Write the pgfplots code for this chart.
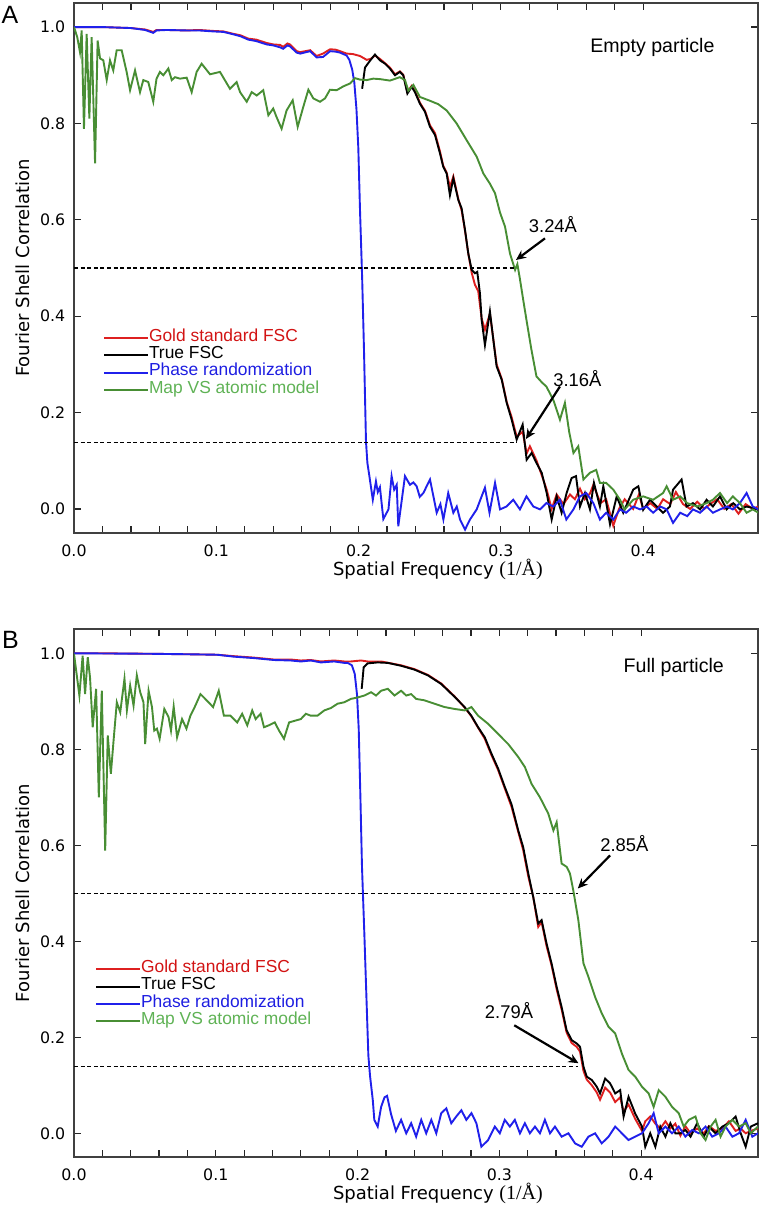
\documentclass[border=0pt]{standalone}
\usepackage{fontspec}
\setmainfont{DejaVu Sans}
\newfontfamily\arial{Liberation Sans}
\newfontfamily\lser{Liberation Serif}
\usepackage{pgfplots}
\pgfplotsset{compat=1.18}
\usetikzlibrary{arrows.meta}
\definecolor{fscred}{RGB}{222,32,32}
\definecolor{fscblue}{RGB}{32,32,235}
\definecolor{fscgreen}{RGB}{72,142,52}
\definecolor{legred}{RGB}{210,20,20}
\definecolor{legblue}{RGB}{30,30,225}
\definecolor{leggreen}{RGB}{95,178,85}
\pgfplotsset{fsc/.style={
  scale only axis, width=342pt,
  xmin=0, ymin=-0.05, ymax=1.05,
  xtick={0,0.1,0.2,0.3,0.4}, minor x tick num=4,
  ytick={0,0.2,0.4,0.6,0.8,1.0},
  tick align=inside, xtick pos=both, ytick pos=both,
  xticklabel pos=lower, yticklabel pos=left,
  major tick length=3.5pt, minor tick length=3.5pt,
  every tick/.style={black!85, line width=0.6pt},
  axis line style={black!75, line width=0.9pt},
  /pgf/number format/.cd, fixed, fixed zerofill, precision=1, assume math mode=true, /pgfplots/.cd,
  tick label style={font=\fontsize{7.9}{9}\selectfont},
  xticklabel style={yshift=-2.2pt},
  yticklabel style={xshift=-0.9pt},
  label style={font=\fontsize{9}{11}\selectfont},
  xlabel={Spatial Frequency {\lser\fontsize{10}{12}\selectfont(1/Å)}},
  ylabel={Fourier Shell Correlation},
  xlabel style={at={(axis description cs:0.532,-0.068)}, anchor=center},
  ylabel style={at={(axis description cs:-0.0753,0.5)}, anchor=center},
  legend cell align=left,
  legend image code/.code={\draw[#1, line width=1pt] (0pt,0pt) -- (22pt,0pt);},
  legend style={draw=none, fill=none, inner sep=0pt, outer sep=0pt, row sep=0pt,
    font=\arial\fontsize{8.7}{10}\selectfont,
    nodes={inner sep=0pt, text height=5.9pt, text depth=2.75pt},
    /tikz/every even column/.append style={column sep=1.5pt}},
  every axis plot/.append style={line width=0.95pt},
}}
\tikzset{fscdash/.style={black, line width=0.6pt, dash pattern=on 2pt off 1.3pt}}
\begin{document}
\begin{tikzpicture}
\path[use as bounding box] (0,0) rectangle (381pt,603pt);
% ---------------- Panel A ----------------
\begin{axis}[fsc, at={(37pt,336.5pt)}, anchor=south west, height=265pt, xmax=0.4807,
  legend style={at={(axis description cs:0.0424,0.384)}, anchor=north west}]
\addplot[fscred] coordinates {
(0.000,1.000) (0.010,1.000) (0.020,1.000) (0.030,0.999) (0.040,0.998) (0.050,0.995) (0.0557,0.990) (0.058,0.994)
(0.065,0.994) (0.079,0.993) (0.088,0.994) (0.098,0.992) (0.105,0.991) (0.112,0.986) (0.117,0.983) (0.1225,0.976)
(0.128,0.974) (0.1354,0.967) (0.140,0.964) (0.1448,0.963) (0.147,0.959) (0.150,0.966) (0.1518,0.964) (0.1565,0.950)
(0.159,0.948) (0.166,0.952) (0.1705,0.940) (0.175,0.945) (0.180,0.954) (0.184,0.953) (0.187,0.950) (0.1916,0.945)
(0.196,0.944) (0.201,0.940) (0.2057,0.932) (0.2085,0.934) (0.2115,0.941) (0.215,0.934) (0.2186,0.925) (0.222,0.916)
(0.2256,0.902) (0.229,0.908) (0.2314,0.901) (0.2343,0.865) (0.2373,0.878) (0.2396,0.868) (0.2431,0.843) (0.2467,0.826)
(0.2502,0.796) (0.2537,0.780) (0.2572,0.742) (0.2595,0.712) (0.2619,0.698) (0.2642,0.668) (0.2666,0.690) (0.2701,0.643)
(0.2724,0.620) (0.2748,0.577) (0.2771,0.530) (0.2795,0.490) (0.2818,0.465) (0.2841,0.452) (0.2865,0.395) (0.2888,0.372)
(0.2923,0.405) (0.2947,0.352) (0.297,0.300) (0.3006,0.270) (0.3041,0.222) (0.3076,0.190) (0.3111,0.150) (0.3153,0.160)
(0.3181,0.115) (0.3204,0.130) (0.3251,0.100) (0.3287,0.070) (0.3322,0.040) (0.3357,0.000) (0.3392,0.030) (0.344,0.010)
(0.3486,0.030) (0.352,0.020) (0.3556,0.042) (0.359,0.020) (0.3626,0.032) (0.365,0.050) (0.370,0.012) (0.374,0.020)
(0.379,-0.035) (0.383,0.000) (0.387,0.020) (0.393,0.000) (0.397,0.030) (0.400,0.000) (0.405,0.012) (0.410,0.000)
(0.414,0.020) (0.419,0.010) (0.423,0.035) (0.428,0.010) (0.433,0.000) (0.438,0.015) (0.443,0.000) (0.447,0.010)
(0.452,0.020) (0.457,0.000) (0.462,0.010) (0.467,-0.010) (0.472,0.010) (0.477,0.000) (0.481,0.005)
};
\addlegendentry{\textcolor{legred}{Gold standard FSC}}
\addplot[black] coordinates {
(0.2025,0.872) (0.2045,0.916) (0.208,0.930) (0.2115,0.943) (0.215,0.931) (0.2186,0.924) (0.222,0.914) (0.2256,0.900)
(0.229,0.907) (0.2314,0.900) (0.2343,0.862) (0.2373,0.876) (0.2396,0.865) (0.2431,0.841) (0.2467,0.824) (0.2502,0.793)
(0.2537,0.776) (0.2572,0.738) (0.2595,0.710) (0.2619,0.696) (0.2642,0.651) (0.2666,0.686) (0.2701,0.641) (0.2724,0.624)
(0.2748,0.579) (0.2771,0.530) (0.2795,0.496) (0.2818,0.489) (0.2834,0.492) (0.2853,0.447) (0.2865,0.392) (0.2888,0.340)
(0.2923,0.410) (0.2947,0.351) (0.297,0.296) (0.3006,0.268) (0.3041,0.220) (0.3076,0.185) (0.3111,0.144) (0.3153,0.175)
(0.3181,0.102) (0.3216,0.116) (0.3251,0.095) (0.3287,0.075) (0.3322,0.033) (0.3357,-0.022) (0.3392,0.026) (0.3427,-0.008)
(0.3462,0.033) (0.3497,0.064) (0.3528,0.068) (0.3556,0.005) (0.3591,0.033) (0.3626,-0.001) (0.3654,0.054) (0.3696,0.005)
(0.372,0.047) (0.3767,-0.032) (0.3814,0.026) (0.386,-0.008) (0.393,0.040) (0.3966,0.047) (0.400,-0.002) (0.4048,0.019)
(0.4095,0.005) (0.414,-0.008) (0.4188,0.005) (0.421,0.040) (0.427,0.061) (0.4305,0.005) (0.435,0.012) (0.440,-0.001)
(0.4446,0.019) (0.449,0.005) (0.454,0.026) (0.4587,-0.001) (0.4633,0.012) (0.468,-0.001) (0.4727,0.005) (0.481,-0.001)
};
\addlegendentry{\textcolor{black}{True FSC}}
\addplot[fscblue] coordinates {
(0.000,1.000) (0.010,1.000) (0.020,1.000) (0.030,0.999) (0.040,0.998) (0.050,0.994) (0.0557,0.988) (0.058,0.993)
(0.065,0.994) (0.079,0.993) (0.088,0.993) (0.098,0.991) (0.105,0.990) (0.112,0.985) (0.117,0.981) (0.1225,0.974)
(0.128,0.971) (0.1354,0.964) (0.140,0.962) (0.1448,0.958) (0.147,0.955) (0.150,0.962) (0.1518,0.960) (0.1565,0.947)
(0.159,0.945) (0.166,0.950) (0.1705,0.937) (0.175,0.938) (0.180,0.950) (0.184,0.949) (0.187,0.947) (0.1916,0.941)
(0.1935,0.932) (0.1955,0.912) (0.197,0.885) (0.1985,0.830) (0.1998,0.750) (0.201,0.620) (0.2025,0.480) (0.2038,0.330)
(0.2052,0.140) (0.2062,0.095) (0.2075,0.070) (0.210,0.019) (0.2122,0.057) (0.2135,0.035) (0.215,0.045) (0.2174,-0.021)
(0.221,-0.001) (0.2232,0.068) (0.2250,0.040) (0.2268,0.050) (0.2279,-0.036) (0.2326,0.068) (0.2361,0.050) (0.2385,0.055)
(0.2408,0.047) (0.2430,0.025) (0.2455,0.033) (0.2502,0.061) (0.2549,-0.008) (0.2575,0.010) (0.2596,-0.022) (0.263,0.033)
(0.2666,-0.008) (0.2690,0.005) (0.2713,-0.022) (0.2748,-0.043) (0.2783,-0.022) (0.283,-0.001) (0.2888,0.044) (0.292,-0.008)
(0.2959,0.054) (0.2994,-0.001) (0.304,0.005) (0.3087,0.019) (0.3134,-0.001) (0.318,0.026) (0.3228,0.005) (0.3275,-0.001)
(0.332,0.012) (0.3368,0.005) (0.3415,0.019) (0.346,-0.022) (0.351,-0.001) (0.3556,0.026) (0.360,0.033) (0.365,0.012)
(0.3696,-0.022) (0.374,-0.008) (0.379,-0.022) (0.3837,-0.001) (0.388,-0.008) (0.393,0.005) (0.3978,-0.001) (0.4025,0.005)
(0.407,-0.008) (0.412,0.005) (0.4165,-0.001) (0.421,-0.029) (0.426,-0.008) (0.431,-0.015) (0.435,-0.001) (0.440,-0.008)
(0.4446,0.005) (0.449,-0.008) (0.454,-0.001) (0.459,0.005) (0.463,-0.001) (0.468,0.012) (0.4727,0.033) (0.477,0.005) (0.481,-0.001)
};
\addlegendentry{\textcolor{legblue}{Phase randomization}}
\addplot[fscgreen] coordinates {
(0.000,1.000) (0.0023,0.979) (0.0042,0.948) (0.0054,0.993) (0.007,0.789) (0.0089,0.986) (0.0108,0.810) (0.0124,0.979)
(0.0148,0.717) (0.0166,0.972) (0.0183,0.935) (0.0206,0.931) (0.023,0.890) (0.0253,0.931) (0.0276,0.910) (0.030,0.952)
(0.0335,0.952) (0.037,0.907) (0.0394,0.869) (0.0429,0.910) (0.0464,0.865) (0.0487,0.890) (0.0522,0.886) (0.0557,0.845)
(0.058,0.893) (0.0604,0.907) (0.0628,0.900) (0.0663,0.914) (0.0687,0.890) (0.071,0.896) (0.0745,0.893) (0.0792,0.895)
(0.0827,0.865) (0.0862,0.907) (0.0897,0.924) (0.0956,0.902) (0.1026,0.907) (0.1096,0.872) (0.1143,0.886) (0.1167,0.865)
(0.1214,0.845) (0.1249,0.865) (0.1284,0.858) (0.133,0.869) (0.1366,0.817) (0.140,0.831) (0.1424,0.813) (0.1459,0.789)
(0.1494,0.827) (0.1537,0.848) (0.1572,0.793) (0.1611,0.834) (0.1647,0.870) (0.1682,0.852) (0.1729,0.845) (0.1764,0.852)
(0.1799,0.870) (0.1846,0.869) (0.1893,0.877) (0.194,0.883) (0.1975,0.894) (0.201,0.891) (0.2057,0.890) (0.2103,0.893)
(0.215,0.892) (0.222,0.889) (0.229,0.896) (0.2326,0.890) (0.235,0.868) (0.2385,0.880) (0.2431,0.855) (0.2502,0.847)
(0.2560,0.840) (0.2619,0.827) (0.2689,0.800) (0.276,0.765) (0.283,0.731) (0.2877,0.696) (0.2923,0.675) (0.2959,0.655)
(0.2994,0.615) (0.3029,0.586) (0.3064,0.530) (0.310,0.496) (0.3116,0.508) (0.3134,0.477) (0.3158,0.432) (0.318,0.392)
(0.3215,0.330) (0.325,0.275) (0.329,0.262) (0.332,0.254) (0.337,0.225) (0.3415,0.185) (0.345,0.220) (0.348,0.160)
(0.351,0.116) (0.3544,0.130) (0.358,0.061) (0.3626,0.075) (0.367,0.081) (0.3696,0.054) (0.374,0.054) (0.379,0.040)
(0.3837,0.019) (0.387,-0.001) (0.393,0.019) (0.400,0.026) (0.407,0.019) (0.414,0.033) (0.4165,0.047) (0.421,0.019)
(0.426,0.026) (0.431,0.012) (0.438,0.005) (0.4446,0.012) (0.449,0.019) (0.454,0.033) (0.459,0.012) (0.463,0.026)
(0.468,0.012) (0.4727,-0.008) (0.477,-0.001) (0.481,-0.008)
};
\addlegendentry{\textcolor{leggreen}{Map VS atomic model}}
\addplot[fscdash, forget plot] coordinates {(0,0.5) (0.310,0.5)};
\addplot[fscdash, forget plot] coordinates {(0,0.137) (0.3115,0.137)};
\draw[-{Stealth[length=5pt,width=4.5pt]}, line width=1.1pt] (axis cs:0.331,0.5615) -- (axis cs:0.3106,0.5166);
\draw[-{Stealth[length=5pt,width=4.5pt]}, line width=1.1pt] (axis cs:0.3415,0.254) -- (axis cs:0.3176,0.145);
\node[font=\arial\fontsize{9.2}{11}\selectfont] at (axis cs:0.3366,0.591) {3.24Å};
\node[font=\arial\fontsize{9.2}{11}\selectfont] at (axis cs:0.3538,0.271) {3.16Å};
\node[font=\arial\fontsize{9.8}{12}\selectfont] at (axis cs:0.4065,0.958) {Empty particle};
\end{axis}
% ---------------- Panel B ----------------
\begin{axis}[fsc, at={(37pt,24.35pt)}, anchor=south west, height=264pt, xmax=0.4824,
  legend style={at={(axis description cs:0.0308,0.3725)}, anchor=north west}]
\addplot[fscred] coordinates {
(0.000,1.000) (0.020,1.000) (0.0538,0.999) (0.080,0.998) (0.101,0.997) (0.1128,0.994) (0.127,0.991) (0.1411,0.987)
(0.1529,0.987) (0.160,0.985) (0.167,0.986) (0.1741,0.983) (0.1835,0.985) (0.1906,0.983) (0.1953,0.983) (0.2024,0.985)
(0.2071,0.983) (0.2166,0.983) (0.2307,0.975) (0.2401,0.967) (0.2496,0.955) (0.259,0.937) (0.2685,0.910) (0.2755,0.887)
(0.2802,0.869) (0.2850,0.845) (0.2897,0.822) (0.2944,0.788) (0.2991,0.757) (0.3039,0.718) (0.3086,0.680) (0.3133,0.628)
(0.3168,0.590) (0.3204,0.535) (0.3239,0.492) (0.3274,0.430) (0.3298,0.440) (0.3333,0.390) (0.3368,0.350) (0.3404,0.300)
(0.3439,0.258) (0.3474,0.210) (0.351,0.188) (0.3546,0.180) (0.3569,0.170) (0.3593,0.130) (0.3616,0.112) (0.3652,0.100)
(0.3687,0.085) (0.371,0.070) (0.3746,0.095) (0.3781,0.085) (0.3817,0.065) (0.3852,0.075) (0.3876,0.045) (0.3911,0.060)
(0.3958,0.030) (0.4006,0.005) (0.4029,0.025) (0.4064,0.035) (0.41,0.020) (0.4135,0.010) (0.4171,0.025) (0.4206,0.010)
(0.4241,0.020) (0.4277,-0.005) (0.4312,0.015) (0.4348,0.000) (0.4395,0.010) (0.4442,0.000) (0.4478,0.015) (0.4525,0.005)
(0.4572,0.010) (0.4619,0.025) (0.4666,0.005) (0.4702,0.010) (0.4737,0.000) (0.4773,0.005) (0.4824,0.010)
};
\addlegendentry{\textcolor{legred}{Gold standard FSC}}
\addplot[black] coordinates {
(0.2029,0.926) (0.2043,0.971) (0.2071,0.979) (0.2142,0.981) (0.2213,0.980) (0.2307,0.974) (0.2401,0.966) (0.2496,0.954)
(0.259,0.936) (0.2685,0.909) (0.2755,0.888) (0.2802,0.870) (0.285,0.846) (0.2897,0.825) (0.2944,0.791) (0.2991,0.760)
(0.3039,0.721) (0.3086,0.685) (0.3133,0.631) (0.3168,0.596) (0.3204,0.541) (0.3239,0.492) (0.3274,0.437) (0.3298,0.444)
(0.3333,0.395) (0.3368,0.354) (0.3404,0.305) (0.3439,0.263) (0.3474,0.215) (0.351,0.194) (0.3546,0.187) (0.3569,0.180)
(0.3593,0.139) (0.3616,0.118) (0.3652,0.111) (0.3687,0.097) (0.371,0.083) (0.3746,0.114) (0.3781,0.104) (0.3817,0.083)
(0.3852,0.090) (0.3876,0.035) (0.3911,0.076) (0.3958,0.041) (0.4006,0.014) (0.4029,-0.028) (0.4064,0.000) (0.41,-0.028)
(0.4135,0.014) (0.4171,-0.007) (0.4206,0.021) (0.4241,0.000) (0.4277,0.000) (0.4312,0.007) (0.4348,-0.007) (0.4395,0.021)
(0.4442,-0.007) (0.4478,0.014) (0.4525,0.000) (0.4572,0.014) (0.4619,0.021) (0.4666,0.035) (0.4702,0.000) (0.4737,-0.028)
(0.4773,0.014) (0.4824,0.021)
};
\addlegendentry{\textcolor{black}{True FSC}}
\addplot[fscblue] coordinates {
(0.000,1.000) (0.0538,0.999) (0.080,0.998) (0.101,0.997) (0.1128,0.993) (0.127,0.990) (0.1411,0.986) (0.1529,0.985)
(0.160,0.983) (0.167,0.985) (0.1741,0.981) (0.1835,0.983) (0.1906,0.980) (0.193,0.980) (0.196,0.975) (0.198,0.957)
(0.1996,0.914) (0.2008,0.843) (0.202,0.699) (0.2031,0.556) (0.2048,0.413) (0.2064,0.269) (0.2076,0.162) (0.2088,0.119)
(0.2107,0.070) (0.2118,0.028) (0.2142,0.014) (0.2166,0.055) (0.2190,0.075) (0.2208,0.078) (0.2236,0.040) (0.2270,0.005)
(0.2307,0.028) (0.2343,0.000) (0.2378,0.021) (0.2413,-0.007) (0.2449,0.028) (0.2484,0.000) (0.252,0.028) (0.2555,0.000)
(0.259,0.042) (0.2626,0.052) (0.2661,0.021) (0.2696,0.035) (0.2732,0.048) (0.2767,0.028) (0.2803,0.042) (0.2838,0.021)
(0.2873,-0.028) (0.2921,-0.014) (0.2968,0.014) (0.3003,0.000) (0.3038,0.028) (0.3074,0.014) (0.3109,0.028) (0.3145,0.000)
(0.318,0.021) (0.3215,0.000) (0.3251,0.014) (0.3286,0.000) (0.3321,0.028) (0.3357,0.000) (0.3392,0.014) (0.3439,-0.007)
(0.3487,0.000) (0.3534,-0.021) (0.3581,-0.028) (0.3628,-0.007) (0.3675,0.000) (0.3722,-0.021) (0.377,-0.007) (0.3817,0.014)
(0.3864,0.000) (0.3911,-0.014) (0.3958,-0.007) (0.4006,0.000) (0.4053,0.021) (0.4088,0.042) (0.4124,0.000) (0.4171,0.014)
(0.4218,0.000) (0.4265,0.014) (0.4312,-0.007) (0.436,0.007) (0.4407,0.000) (0.4454,0.014) (0.4501,-0.007) (0.4548,0.000)
(0.4595,0.014) (0.4643,-0.007) (0.469,0.000) (0.4737,0.028) (0.4784,-0.007) (0.4824,0.000)
};
\addlegendentry{\textcolor{legblue}{Phase randomization}}
\addplot[fscgreen] coordinates {
(0.000,0.999) (0.0038,0.912) (0.0061,0.995) (0.0078,0.915) (0.0097,0.992) (0.0113,0.950) (0.0132,0.846) (0.0156,0.926)
(0.0175,0.700) (0.0196,0.922) (0.022,0.589) (0.0238,0.829) (0.026,0.749) (0.0279,0.818) (0.0302,0.898) (0.0326,0.877)
(0.0356,0.947) (0.0373,0.881) (0.0396,0.933) (0.042,0.891) (0.0443,0.954) (0.0467,0.919) (0.049,0.898) (0.0502,0.811)
(0.0526,0.922) (0.055,0.888) (0.0566,0.839) (0.0585,0.843) (0.0604,0.822) (0.0637,0.884) (0.0667,0.867) (0.0684,0.839)
(0.0703,0.889) (0.0727,0.825) (0.0762,0.863) (0.0793,0.843) (0.0821,0.870) (0.0856,0.891) (0.0892,0.915) (0.0939,0.901)
(0.0981,0.888) (0.1021,0.922) (0.1057,0.870) (0.1104,0.870) (0.1151,0.856) (0.1186,0.874) (0.1222,0.850) (0.1257,0.881)
(0.1281,0.863) (0.1316,0.874) (0.134,0.846) (0.1375,0.850) (0.1416,0.856) (0.1446,0.839) (0.1481,0.822) (0.1517,0.856)
(0.1564,0.860) (0.16,0.863) (0.1635,0.874) (0.167,0.870) (0.1717,0.870) (0.1765,0.881) (0.1812,0.886) (0.1859,0.895)
(0.1906,0.898) (0.1953,0.905) (0.2,0.908) (0.2048,0.912) (0.2095,0.919) (0.213,0.912) (0.2166,0.922) (0.2213,0.926)
(0.226,0.912) (0.2307,0.922) (0.2343,0.912) (0.2378,0.915) (0.2413,0.905) (0.2472,0.902) (0.2543,0.895) (0.2614,0.888)
(0.2685,0.884) (0.2755,0.881) (0.2803,0.888) (0.285,0.870) (0.2921,0.853) (0.2991,0.832) (0.3062,0.811) (0.3133,0.784)
(0.318,0.763) (0.3227,0.728) (0.3286,0.700) (0.3345,0.666) (0.3381,0.631) (0.3404,0.648) (0.3439,0.562) (0.3475,0.555)
(0.3498,0.541) (0.3522,0.505) (0.3557,0.444) (0.3593,0.354) (0.3628,0.326) (0.3675,0.284) (0.3722,0.250) (0.377,0.222)
(0.3817,0.208) (0.3864,0.166) (0.3911,0.132) (0.3958,0.118) (0.4006,0.097) (0.4053,0.083) (0.4088,0.055) (0.4124,0.090)
(0.4171,0.076) (0.4218,0.055) (0.4265,0.042) (0.43,0.014) (0.4336,0.028) (0.4383,0.035) (0.4419,0.000) (0.4454,-0.014)
(0.449,0.014) (0.4525,0.028) (0.456,-0.007) (0.4595,0.014) (0.4643,0.028) (0.469,0.014) (0.4737,0.021) (0.4773,0.000) (0.4824,0.014)
};
\addlegendentry{\textcolor{leggreen}{Map VS atomic model}}
\addplot[fscdash, forget plot] coordinates {(0,0.5) (0.3553,0.5)};
\addplot[fscdash, forget plot] coordinates {(0,0.139) (0.3557,0.139)};
\draw[-{Stealth[length=5pt,width=4.5pt]}, line width=1.1pt] (axis cs:0.3781,0.579) -- (axis cs:0.3553,0.510);
\draw[-{Stealth[length=5pt,width=4.5pt]}, line width=1.1pt] (axis cs:0.3105,0.225) -- (axis cs:0.3558,0.146);
\node[font=\arial\fontsize{9.2}{11}\selectfont] at (axis cs:0.3882,0.603) {2.85Å};
\node[font=\arial\fontsize{9.2}{11}\selectfont] at (axis cs:0.3068,0.2566) {2.79Å};
\node[font=\arial\fontsize{9.8}{12}\selectfont] at (axis cs:0.423,0.971) {Full particle};
\end{axis}
\node[font=\arial\fontsize{12.5}{14}\selectfont] at (5pt,595.5pt) {A};
\node[font=\arial\fontsize{12.5}{14}\selectfont] at (5.25pt,283pt) {B};
\end{tikzpicture}
\end{document}
